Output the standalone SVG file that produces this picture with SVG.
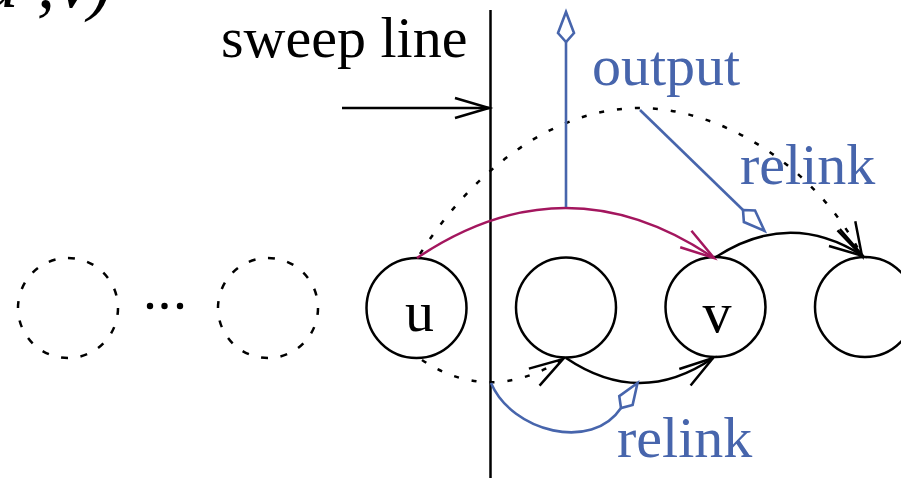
<svg xmlns="http://www.w3.org/2000/svg" width="901" height="478" viewBox="0 0 901 478">
<style>
.node{fill:none;stroke:#000;stroke-width:2.5}
.ghost{fill:none;stroke:#000;stroke-width:2.5;stroke-dasharray:7 12.6}
.lbl{font-family:"Liberation Serif","Times New Roman",serif;font-size:58px;fill:#000}
.blue{fill:#4765ac}
.k{fill:none;stroke:#000;stroke-width:2.5}
.dot{fill:none;stroke:#000;stroke-width:2.5;stroke-dasharray:5 13}
.b{fill:none;stroke:#4765ac;stroke-width:2.6}
.r{fill:none;stroke:#a3165e;stroke-width:2.5}
</style>
<defs>
<marker id="ak" markerUnits="userSpaceOnUse" markerWidth="50" markerHeight="50" viewBox="-40 -20 50 40" refX="0" refY="0" orient="auto" overflow="visible">
<path d="M-34,-10 L0,0 L-34,10" fill="none" stroke="#000" stroke-width="2.5"/>
</marker>
<marker id="ar" markerUnits="userSpaceOnUse" markerWidth="50" markerHeight="50" viewBox="-40 -20 50 40" refX="0" refY="0" orient="auto" overflow="visible">
<path d="M-34,-10 L0,0 L-34,10" fill="none" stroke="#a3165e" stroke-width="2.5"/>
</marker>
<marker id="kite" markerUnits="userSpaceOnUse" markerWidth="50" markerHeight="50" viewBox="-5 -20 50 40" refX="0" refY="0" orient="auto" overflow="visible">
<path d="M0,0 L9,-8 L30,0 L9,8 Z" fill="#fff" stroke="#4765ac" stroke-width="2.6"/>
</marker>
</defs>
<rect width="901" height="478" fill="#fff"/>

<text class="lbl" font-style="italic" font-size="72" x="-18 37 50 58 88" y="7" style="font-size:72px">u, v)</text>
<text class="lbl" x="221" y="57">sweep line</text>
<text class="lbl blue" x="592" y="85">output</text>
<text class="lbl blue" x="740" y="184">relink</text>
<text class="lbl blue" x="617" y="457">relink</text>

<g id="sweep-line">
<line x1="490.5" y1="10" x2="490.5" y2="478" stroke="#000" stroke-width="2.5"/>
</g>

<g id="ghost1"><circle class="ghost" cx="68" cy="308" r="50"/></g>
<g id="ellipsis">
<circle cx="150" cy="306" r="3.2"/><circle cx="164.5" cy="306" r="3.2"/><circle cx="180" cy="306" r="3.2"/>
</g>
<g id="ghost2"><circle class="ghost" cx="268" cy="308" r="50"/></g>
<g id="node-u"><circle class="node" cx="416.5" cy="308" r="50"/><text class="lbl" x="419.5" y="331" text-anchor="middle">u</text></g>
<g id="node-2"><circle class="node" cx="566" cy="307.5" r="50"/></g>
<g id="node-v"><circle class="node" cx="715.5" cy="307" r="50"/><text class="lbl" x="717" y="332" text-anchor="middle">v</text></g>
<g id="node-4"><circle class="node" cx="865" cy="307" r="50"/></g>

<g id="connectors">
<line class="k" x1="342" y1="108" x2="489" y2="108" marker-end="url(#ak)"/>
<path class="dot" d="M420,254 C470,175 550,108 640,108 C720,108 815,165 862,256" marker-end="url(#ak)"/>
<path class="k" d="M716,257 Q790,209 863,256" marker-end="url(#ak)"/>
<path class="r" d="M417,258 Q566,158 714,258" marker-end="url(#ar)"/>
<path class="dot" d="M422,360 Q490,405 563,359" marker-end="url(#ak)"/>
<path class="k" d="M566,358 Q640,408 713,358" marker-end="url(#ak)"/>
<line class="b" x1="566" y1="207" x2="566" y2="42" marker-end="url(#kite)"/>
<line class="b" x1="640" y1="110" x2="743" y2="210" marker-end="url(#kite)"/>
<path class="b" d="M491,383 C512,432 592,452 621,408" marker-end="url(#kite)"/>
</g>
</svg>
